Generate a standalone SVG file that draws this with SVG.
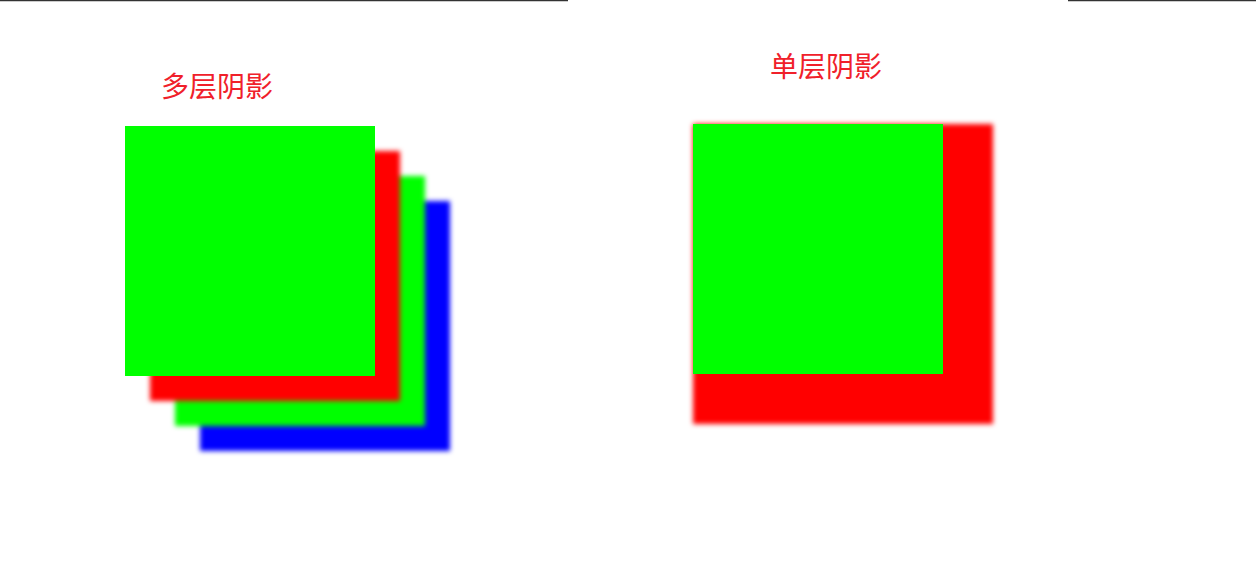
<svg xmlns="http://www.w3.org/2000/svg" width="1256" height="563" viewBox="0 0 1256 563">
<style>
.lbl{font-family:"Noto Sans CJK SC","Liberation Sans",sans-serif;font-size:28px;fill:#f0202a}
.line{stroke:#333;stroke-width:1.5}
</style>
<defs>
<filter id="blur" x="-10%" y="-10%" width="120%" height="120%"><feGaussianBlur stdDeviation="2.5"/></filter>
</defs>
<rect width="1256" height="563" fill="#fff"/>
<g id="lines">
<line class="line" x1="0" y1="0.5" x2="568" y2="0.5"/>
<line class="line" x1="1068" y1="0.5" x2="1256" y2="0.5"/>
</g>
<g id="multi">
<text class="lbl" x="161" y="97">多层阴影</text>
<rect x="200" y="201" width="250" height="250" fill="#0000ff" filter="url(#blur)"/>
<rect x="175" y="176" width="250" height="250" fill="#00ff00" filter="url(#blur)"/>
<rect x="150" y="151" width="250" height="250" fill="#ff0000" filter="url(#blur)"/>
<rect x="125" y="126" width="250" height="250" fill="#00ff00"/>
</g>
<g id="single">
<text class="lbl" x="770" y="77">单层阴影</text>
<rect x="693" y="124" width="300" height="300" fill="#ff0000" filter="url(#blur)"/>
<rect x="693" y="124" width="250" height="250" fill="#00ff00"/>
</g>
</svg>
